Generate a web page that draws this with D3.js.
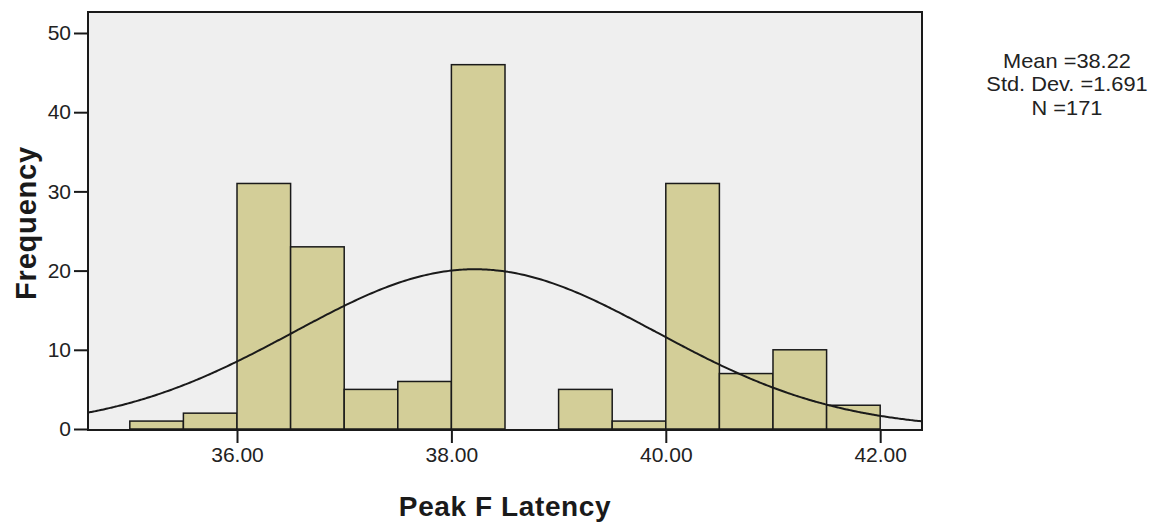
<!DOCTYPE html>
<html><head><meta charset="utf-8">
<script src="https://cdn.jsdelivr.net/npm/d3@7"></script>
<style>body{margin:0;background:#fff;}svg{display:block;font-family:Arial,"Liberation Sans",sans-serif;}</style>
</head><body><svg id="c" width="1157" height="522"></svg>
<script>
const binStarts = [35.0,35.5,36.0,36.5,37.0,37.5,38.0,38.5,39.0,39.5,40.0,40.5,41.0,41.5];
const counts = [1,2,31,23,5,6,46,0,5,1,31,7,10,3];
const binWidth = 0.5;
const xTicks = [36,38,40,42];
const yTicks = [0,10,20,30,40,50];
const mean = 38.22, sd = 1.691, n = 171;
const statLines = ["Mean =38.22","Std. Dev. =1.691","N =171"];

const svg = d3.select("#c");
const L=88,T=12,R=922,B=430;
const x = d3.scaleLinear().domain([34.61,42.39]).range([L,R]);
const y = d3.scaleLinear().domain([0,52.65]).range([429,T]);

svg.append("rect").attr("x",L).attr("y",T).attr("width",R-L).attr("height",B-T).attr("fill","#efefef");

svg.append("g").selectAll("rect").data(counts).join("rect")
  .attr("x",(d,i)=>x(binStarts[i])).attr("width",(d,i)=>x(binStarts[i]+binWidth)-x(binStarts[i]))
  .attr("y",d=>y(d)).attr("height",d=>y(0)-y(d))
  .attr("fill","#d3ce98").attr("stroke","#1a1a1a").attr("stroke-width",1.5);

const pts = d3.range(0,301).map(i=>{const v=34.61+(42.39-34.61)*i/300;return [v,n*binWidth*Math.exp(-0.5*((v-mean)/sd)**2)/(sd*Math.sqrt(2*Math.PI))];});
svg.append("path").datum(pts).attr("fill","none").attr("stroke","#1a1a1a").attr("stroke-width",2)
  .attr("d",d3.line().x(d=>x(d[0])).y(d=>y(d[1])).curve(d3.curveBasis));

svg.append("rect").attr("x",L).attr("y",T).attr("width",R-L).attr("height",B-T).attr("fill","none").attr("stroke","#1a1a1a").attr("stroke-width",2);

const ya = svg.append("g").attr("transform",`translate(${L},0)`)
  .call(d3.axisLeft(y).tickValues(yTicks).tickSize(14).tickPadding(3).tickFormat(d3.format("d")));
ya.select(".domain").remove();
ya.selectAll("line").attr("stroke","#1a1a1a").attr("stroke-width",2);
ya.selectAll("text").attr("font-size",21).attr("fill","#222").attr("font-family","Arial,'Liberation Sans',sans-serif");

const xa = svg.append("g").attr("transform",`translate(0,${B})`)
  .call(d3.axisBottom(x).tickValues(xTicks).tickSize(13).tickPadding(4).tickFormat(d3.format(".2f")));
xa.select(".domain").remove();
xa.selectAll("line").attr("stroke","#1a1a1a").attr("stroke-width",2);
xa.selectAll("text").attr("font-size",21).attr("fill","#222").attr("font-family","Arial,'Liberation Sans',sans-serif");

svg.append("text").attr("x",505).attr("y",516).attr("text-anchor","middle").attr("font-weight","bold").attr("font-size",28).attr("letter-spacing",0.6).attr("fill","#1a1a1a").text("Peak F Latency");
svg.append("text").attr("transform","translate(36,223) rotate(-90)").attr("text-anchor","middle").attr("font-weight","bold").attr("font-size",29).attr("letter-spacing",0.8).attr("fill","#1a1a1a").text("Frequency");

svg.append("g").attr("transform","translate(1067,0) scale(1.09,1)").selectAll("text").data(statLines).join("text")
  .attr("x",0).attr("y",(d,i)=>68+i*23.5).attr("text-anchor","middle").attr("font-size",20).attr("fill","#222").text(d=>d);
</script></body></html>
